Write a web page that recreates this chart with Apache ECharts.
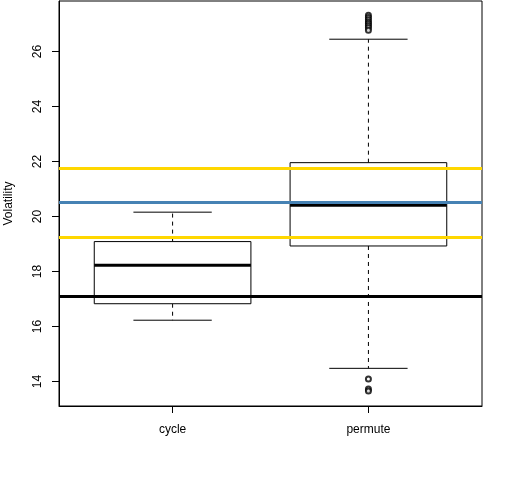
<!DOCTYPE html>
<html>
<head>
<meta charset="utf-8">
<script src="https://cdn.jsdelivr.net/npm/echarts@6/dist/echarts.min.js"></script>
<style>
html, body {margin: 0; padding: 0; background: #fff;}
#main {width: 512px; height: 480px;}
</style>
</head>
<body>
<div id="main"></div>
<script>
// categories on the x axis (positions 1 and 2)
var categories = ['cycle', 'permute'];
// low whisker, q1, median, q3, high whisker
var cycleStats = [16.23, 16.83, 18.23, 19.09, 20.16];
var permuteStats = [14.48, 18.93, 20.41, 21.96, 26.45];
// outliers of permute
var permuteOutliers = [27.32, 27.24, 27.16, 27.08, 27.01, 26.94, 26.87, 26.78, 14.09, 13.73, 13.66];
// reference lines
var goldLines = [19.25, 21.76];
var blueLines = [20.52];
var blackLines = [17.09];
var yTicks = [14, 16, 18, 20, 22, 24, 26];

var font = 'Liberation Sans, Arial, sans-serif';

var boxData = [[1].concat(cycleStats), [2].concat(permuteStats)];
var outlierData = permuteOutliers.map(function (v) { return [2, v]; });

function renderBox(params, api) {
    var x = api.value(0);
    var lo = api.coord([x, api.value(1)]);
    var q1 = api.coord([x, api.value(2)]);
    var md = api.coord([x, api.value(3)]);
    var q3 = api.coord([x, api.value(4)]);
    var hi = api.coord([x, api.value(5)]);
    var halfBox = api.size([0.4, 0])[0];
    var halfCap = api.size([0.2, 0])[0];
    var cx = lo[0];
    var thin = {stroke: '#000', lineWidth: 1, fill: null};
    var dashed = {stroke: '#000', lineWidth: 1, lineDash: [4, 4], fill: null};
    return {
        type: 'group',
        children: [
            {type: 'line', shape: {x1: cx, y1: q3[1], x2: cx, y2: hi[1]}, style: dashed},
            {type: 'line', shape: {x1: cx, y1: q1[1], x2: cx, y2: lo[1]}, style: dashed},
            {type: 'line', shape: {x1: cx - halfCap, y1: hi[1], x2: cx + halfCap, y2: hi[1]}, style: thin},
            {type: 'line', shape: {x1: cx - halfCap, y1: lo[1], x2: cx + halfCap, y2: lo[1]}, style: thin},
            {type: 'rect', shape: {x: cx - halfBox, y: q3[1], width: halfBox * 2, height: q1[1] - q3[1]},
                style: {stroke: '#000', lineWidth: 1, fill: '#fff'}},
            {type: 'line', shape: {x1: cx - halfBox, y1: md[1], x2: cx + halfBox, y2: md[1]},
                style: {stroke: '#000', lineWidth: 3}}
        ]
    };
}

function hLines(values, color) {
    return {
        type: 'line',
        data: [],
        z: 5,
        markLine: {
            silent: true,
            animation: false,
            symbol: ['none', 'none'],
            label: {show: false},
            lineStyle: {color: color, width: 3, type: 'solid'},
            data: values.map(function (v) { return {yAxis: v}; })
        }
    };
}

var chart = echarts.init(document.getElementById('main'));
chart.setOption({
    animation: false,
    textStyle: {fontFamily: font},
    grid: {
        left: 59, right: 30, top: 1, bottom: 74,
        outerBoundsMode: 'none',
        containLabel: false,
        show: true, borderColor: '#000', borderWidth: 1
    },
    xAxis: {
        type: 'value',
        min: 0.42,
        max: 2.58,
        splitLine: {show: false},
        axisLine: {show: true, lineStyle: {color: '#000'}},
        axisTick: {show: true, customValues: [1, 2], length: 7, lineStyle: {color: '#000'}},
        axisLabel: {
            customValues: [1, 2],
            margin: 18,
            fontSize: 12,
            color: '#000',
            fontFamily: font,
            formatter: function (v) { return categories[Math.round(v) - 1]; }
        }
    },
    yAxis: {
        type: 'value',
        min: 13.11,
        max: 27.84,
        name: 'Volatility',
        nameLocation: 'middle',
        nameGap: 44,
        nameTextStyle: {fontSize: 12, color: '#000', fontFamily: font},
        splitLine: {show: false},
        axisLine: {show: true, lineStyle: {color: '#000'}},
        axisTick: {show: true, customValues: yTicks, length: 7, lineStyle: {color: '#000'}},
        axisLabel: {
            customValues: yTicks,
            rotate: 90,
            margin: 15,
            fontSize: 12,
            color: '#000',
            fontFamily: font
        }
    },
    series: [
        {
            type: 'custom',
            renderItem: renderBox,
            data: boxData,
            encode: {x: 0, y: [1, 2, 3, 4, 5]},
            z: 2
        },
        {
            type: 'scatter',
            data: outlierData,
            symbol: 'emptyCircle',
            symbolSize: 5,
            itemStyle: {color: '#000', borderColor: '#000', borderWidth: 1},
            z: 3
        },
        hLines(goldLines, '#FFD700'),
        hLines(blueLines, '#4682B4'),
        hLines(blackLines, '#000')
    ]
});
</script>
</body>
</html>
